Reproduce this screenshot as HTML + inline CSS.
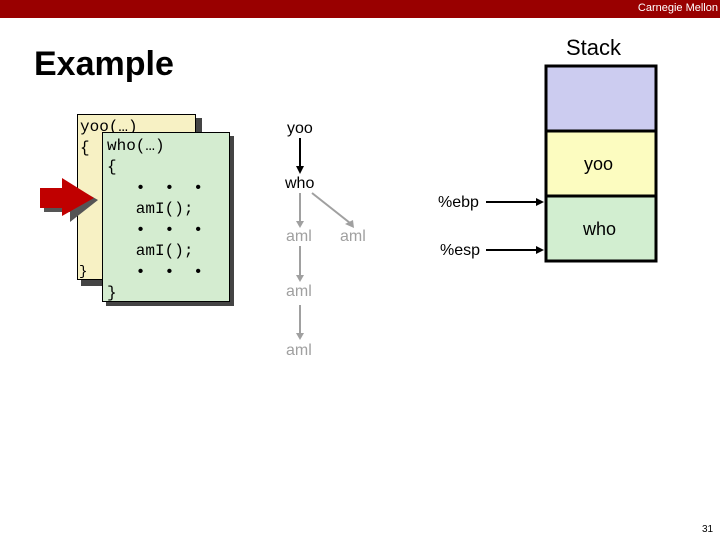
<!DOCTYPE html><html><head><style>
body{margin:0;width:720px;height:540px;position:relative;background:#fff;font-family:"Liberation Sans",sans-serif;overflow:hidden}
.a{position:absolute}
.code{font-family:"Liberation Mono",monospace;font-size:16px;line-height:21px;white-space:pre}
.g{color:#a0a0a0;font-size:16px}
</style></head><body>
<div class="a" style="left:0;top:0;width:720px;height:18px;background:#990000"></div>
<div class="a" style="right:2px;top:2px;color:#fff;font-size:11px">Carnegie Mellon</div>
<div class="a" style="left:34px;top:45px;font-size:34px;font-weight:bold">Example</div>
<div class="a" style="left:566px;top:35px;font-size:22px">Stack</div>
<div class="a" style="left:81px;top:118px;width:121px;height:168px;background:#444"></div>
<div class="a code" style="left:77px;top:114px;width:119px;height:166px;background:#f7f1c4;border:1px solid #000;padding:2px 0 0 2px;box-sizing:border-box;overflow:hidden">yoo(…)
{</div>
<div class="a code" style="left:79px;top:262px;font-size:14px">}</div>
<div class="a" style="left:106px;top:136px;width:128px;height:170px;background:#444"></div>
<div class="a code" style="left:102px;top:132px;width:128px;height:170px;background:#d4ecd0;border:1px solid #000;padding:3px 0 0 4px;box-sizing:border-box">who(…)
{
   •  •  •
   amI();
   •  •  •
   amI();
   •  •  •
}</div>
<svg class="a" style="left:0;top:0" width="720" height="540">
<polygon points="44,192 66,192 66,182 98,200 70,222 70,212 44,212" fill="#555"/>
<polygon points="40,188 62,188 62,178 94,198 62,216 62,208 40,208" fill="#c00000"/>
<line x1="300" y1="138" x2="300" y2="168" stroke="#000" stroke-width="2"/><polygon points="296,166 304,166 300,174" fill="#000"/>
<g stroke="#a0a0a0" stroke-width="2" fill="#a0a0a0">
<line x1="300" y1="193" x2="300" y2="223"/><polygon points="296,221 304,221 300,228" stroke="none"/>
<line x1="312" y1="193" x2="350" y2="223"/><polygon points="345,224 353,220 354,228" stroke="none"/>
<line x1="300" y1="246" x2="300" y2="277"/><polygon points="296,275 304,275 300,282" stroke="none"/>
<line x1="300" y1="305" x2="300" y2="335"/><polygon points="296,333 304,333 300,340" stroke="none"/>
</g>
<line x1="486" y1="202" x2="538" y2="202" stroke="#000" stroke-width="2"/><polygon points="536,198 544,202 536,206"/>
<line x1="486" y1="250" x2="538" y2="250" stroke="#000" stroke-width="2"/><polygon points="536,246 544,250 536,254"/>
<rect x="546" y="66" width="110" height="65" fill="#ccccf0"/>
<rect x="546" y="131" width="110" height="65" fill="#fcfcc0"/>
<rect x="546" y="196" width="110" height="65" fill="#d2eed0"/>
<g stroke="#000" stroke-width="3" fill="none"><rect x="546" y="66" width="110" height="195"/><line x1="546" y1="131" x2="656" y2="131"/><line x1="546" y1="196" x2="656" y2="196"/></g>
</svg>
<div class="a" style="left:287px;top:120px;font-size:16px">yoo</div>
<div class="a" style="left:285px;top:175px;font-size:16px">who</div>
<div class="a g" style="left:286px;top:228px">aml</div>
<div class="a g" style="left:340px;top:228px">aml</div>
<div class="a g" style="left:286px;top:283px">aml</div>
<div class="a g" style="left:286px;top:342px">aml</div>
<div class="a" style="left:438px;top:194px;font-size:16px">%ebp</div>
<div class="a" style="left:440px;top:242px;font-size:16px">%esp</div>
<div class="a" style="left:584px;top:154px;font-size:18px">yoo</div>
<div class="a" style="left:583px;top:219px;font-size:18px">who</div>
<div class="a" style="left:702px;top:524px;font-size:10px">31</div>
</body></html>
